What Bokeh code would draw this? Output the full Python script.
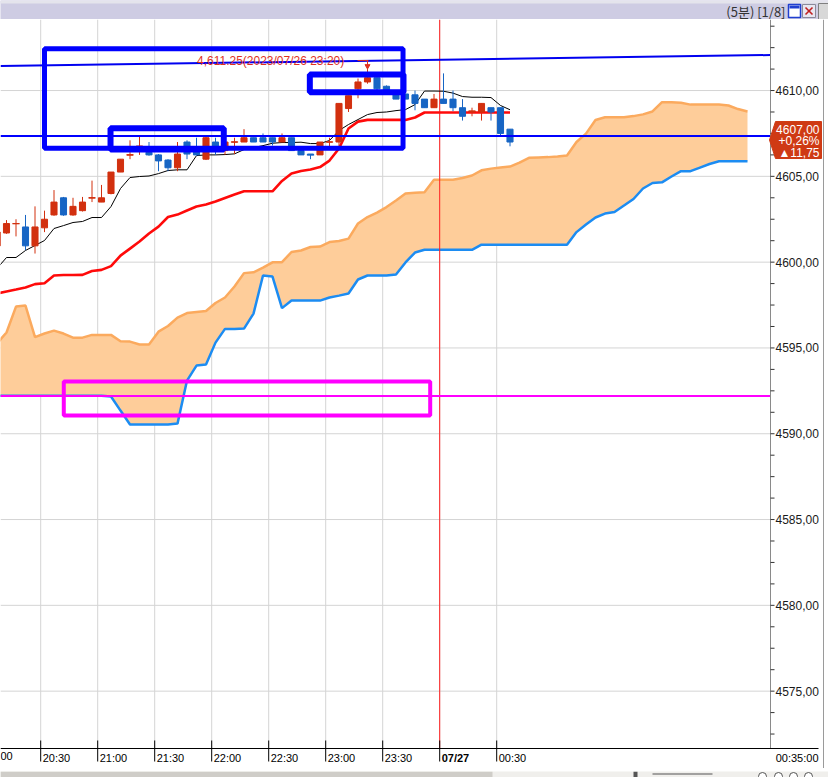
from bokeh.plotting import figure
from bokeh.models import Range1d
from bokeh.layouts import column
from bokeh.embed import file_html
from bokeh.resources import INLINE
from bokeh.core.properties import value

# ---------------- data (bar n = 20:00 + 5n minutes) ----------------
bar_index = list(range(1, 56))
opens = [4600.95, 4601.70, 4602.25, 4602.05, 4600.95, 4602.00, 4602.75, 4603.75, 4602.75, 4603.00,
         4603.75, 4603.50, 4604.00, 4605.25, 4606.25, 4606.75, 4606.40, 4606.25, 4605.95, 4605.50,
         4607.00, 4606.50, 4606.00, 4607.00, 4606.50, 4607.00, 4607.00, 4607.25, 4607.25, 4607.25,
         4607.00, 4607.25, 4606.50, 4606.30, 4606.25, 4607.00, 4607.00, 4608.95, 4610.10, 4610.50,
         4610.75, 4610.25, 4609.80, 4609.80, 4609.75, 4609.50, 4609.00, 4609.50, 4609.50, 4609.00,
         4608.75, 4608.75, 4609.00, 4609.00, 4607.75]
closes = [4601.75, 4602.25, 4602.25, 4600.95, 4602.05, 4602.50, 4603.50, 4602.75, 4603.25, 4603.50,
          4603.75, 4603.75, 4605.25, 4606.00, 4606.25, 4606.75, 4606.25, 4605.90, 4605.50, 4606.30,
          4606.30, 4606.25, 4607.25, 4606.50, 4607.00, 4607.00, 4607.25, 4607.00, 4607.00, 4607.00,
          4607.25, 4606.50, 4606.25, 4606.25, 4607.00, 4607.00, 4609.25, 4609.70, 4610.50, 4610.75,
          4610.10, 4609.85, 4609.50, 4609.50, 4609.25, 4609.00, 4609.50, 4609.25, 4609.00, 4608.50,
          4608.80, 4609.25, 4608.75, 4607.50, 4607.00]
highs = [4601.90, 4602.45, 4602.50, 4602.75, 4603.25, 4603.00, 4604.20, 4603.80, 4603.75, 4603.80,
         4604.75, 4604.50, 4605.25, 4606.00, 4607.10, 4607.30, 4607.00, 4606.30, 4606.00, 4607.00,
         4607.10, 4607.25, 4607.30, 4607.25, 4607.25, 4607.25, 4607.75, 4607.25, 4607.50, 4607.25,
         4607.50, 4607.25, 4606.50, 4606.30, 4607.00, 4607.25, 4609.25, 4609.70, 4610.70, 4611.25,
         4610.75, 4610.30, 4609.80, 4609.80, 4610.00, 4609.50, 4609.80, 4611.00, 4610.00, 4609.50,
         4609.00, 4609.25, 4609.00, 4609.00, 4607.75]
lows = [4600.90, 4601.65, 4601.50, 4600.70, 4600.50, 4601.75, 4602.70, 4602.70, 4602.70, 4602.95,
        4603.50, 4603.50, 4603.95, 4605.25, 4606.00, 4606.25, 4606.20, 4605.30, 4605.30, 4605.30,
        4606.00, 4606.20, 4605.95, 4606.25, 4606.25, 4606.30, 4607.00, 4607.00, 4607.00, 4606.80,
        4607.00, 4606.50, 4606.25, 4606.00, 4606.25, 4606.75, 4606.60, 4608.75, 4609.55, 4610.40,
        4610.00, 4609.80, 4609.50, 4609.50, 4608.85, 4609.00, 4609.00, 4609.25, 4608.80, 4608.25,
        4608.50, 4608.25, 4608.25, 4607.40, 4606.75]
tenkan = [4599.63, 4600.27, 4600.27, 4600.68, 4600.97, 4601.26, 4601.96, 4602.13, 4602.31, 4602.37,
          4602.60, 4602.60, 4603.24, 4604.29, 4604.93, 4604.99, 4605.02, 4605.16, 4605.34, 4605.38,
          4605.38, 4606.21, 4606.25, 4606.25, 4606.27, 4606.31, 4606.56, 4606.68, 4606.79, 4606.93,
          4606.97, 4606.97, 4606.99, 4606.91, 4606.91, 4607.09, 4607.67, 4608.02, 4608.31, 4608.60,
          4608.72, 4608.75, 4608.83, 4608.89, 4609.18, 4609.97, 4609.97, 4609.96, 4609.85, 4609.65,
          4609.61, 4609.61, 4609.59, 4609.13, 4608.88]
kijun = [4598.17, 4598.29, 4598.40, 4598.52, 4598.72, 4598.77, 4599.22, 4599.25, 4599.25, 4599.26,
         4599.48, 4599.55, 4599.77, 4600.38, 4600.79, 4601.20, 4601.67, 4602.07, 4602.63, 4602.77,
         4603.01, 4603.24, 4603.36, 4603.53, 4603.74, 4603.94, 4604.13, 4604.13, 4604.13, 4604.13,
         4604.73, 4605.16, 4605.31, 4605.40, 4605.54, 4605.92, 4606.62, 4607.79, 4608.19, 4608.29,
         4608.29, 4608.29, 4608.29, 4608.29, 4608.43, 4608.72, 4608.72, 4608.72, 4608.72, 4608.72,
         4608.72, 4608.72, 4608.72, 4608.72, 4608.72]
cloud_index = list(range(1, 81))
span_orange = [4595.26, 4595.90, 4597.41, 4597.47, 4595.63, 4595.84, 4596.01, 4595.84, 4595.60, 4595.60,
               4595.76, 4595.76, 4595.76, 4595.39, 4595.37, 4595.20, 4595.20, 4595.95, 4596.28, 4596.77,
               4597.03, 4597.09, 4597.15, 4597.62, 4597.94, 4598.58, 4599.36, 4599.41, 4599.68, 4599.99,
               4600.00, 4600.59, 4600.68, 4600.88, 4600.91, 4601.17, 4601.23, 4601.37, 4602.25, 4602.63,
               4602.89, 4603.21, 4603.59, 4604.00, 4604.04, 4604.07, 4604.80, 4604.80, 4604.80, 4604.90,
               4605.05, 4605.35, 4605.45, 4605.51, 4605.57, 4605.80, 4606.08, 4606.10, 4606.12, 4606.15,
               4606.21, 4607.00, 4607.49, 4608.28, 4608.44, 4608.44, 4608.44, 4608.51, 4608.61, 4608.78,
               4609.32, 4609.32, 4609.29, 4609.18, 4609.18, 4609.18, 4609.18, 4609.13, 4608.92, 4608.78]
span_blue = [4592.22, 4592.22, 4592.22, 4592.22, 4592.22, 4592.22, 4592.22, 4592.22, 4592.22, 4592.22,
             4592.22, 4592.22, 4592.17, 4591.35, 4590.54, 4590.54, 4590.54, 4590.54, 4590.54, 4590.59,
             4593.10, 4593.97, 4594.03, 4595.31, 4596.11, 4596.11, 4596.13, 4597.00, 4599.22, 4599.16,
             4597.32, 4597.76, 4597.76, 4597.76, 4597.76, 4597.94, 4598.05, 4598.17, 4598.99, 4599.22,
             4599.22, 4599.22, 4599.28, 4599.98, 4600.56, 4600.72, 4600.72, 4600.72, 4600.72, 4600.72,
             4600.72, 4601.02, 4601.02, 4601.02, 4601.02, 4601.02, 4601.02, 4601.02, 4601.02, 4601.02,
             4601.02, 4601.75, 4602.19, 4602.60, 4602.83, 4602.92, 4603.30, 4603.68, 4604.29, 4604.61,
             4604.65, 4604.99, 4605.30, 4605.30, 4605.51, 4605.72, 4605.88, 4605.88, 4605.88, 4605.88]
tick_bars = [6, 12, 18, 24, 30, 36, 42, 48, 54]
tick_labels = ["20:30", "21:00", "21:30", "22:00", "22:30", "23:00", "23:30", "07/27", "00:30"]
clipped_left_label = "00"          # tail of the 20:00 label, cut by the left edge
day_break_bar = 48
last_time_label = "00:35:00"
high_bar = 40
high_price = 4611.25
high_label = "4,611.25(2023/07/26 23:20)"
last_price = 4607.00
last_lines = ["4607,00", "+0,26%", "\u25b211,75"]
blue_level = 4607.35
magenta_level = 4592.20
trend_bars = [1.37, 82.42]
trend_prices = [4611.43, 4612.07]
box_left = [6.0, 12.95, 33.93]
box_right = [43.74, 24.87, 43.79]
box_top = [4612.43, 4607.80, 4610.93]
box_bottom = [4606.64, 4606.57, 4609.90]
box_line = [5, 6, 6]
mbox_left, mbox_right, mbox_top, mbox_bottom = [8.03], [46.6], [4593.05], [4591.06]
y_major = [4575, 4580, 4585, 4590, 4595, 4600, 4605, 4610]
title_text = "(5\ubd84) [1/8]"

# ---------------- scale / layout ----------------
PPB, PPP = 9.5, 17.16            # px per bar, px per point
W, CHART_W, CHART_H = 828, 770, 729
TOP_H, MAIN_H, BOT_H = 19, 749, 9
X0 = 13 / PPB                     # bar at the left edge
X1 = X0 + CHART_W / PPB           # bar at the right edge of the chart area
XR = X0 + W / PPB
Y_TOP = 4614.14
Y_BOT = Y_TOP - CHART_H / PPP
Y_MIN = Y_TOP - MAIN_H / PPP
dx = 1.0 / PPB
dy = 1.0 / PPP

RED, BLUE = "#d2300f", "#1765c4"
FONT = "Liberation Sans"

p = figure(width=W, height=MAIN_H, x_range=Range1d(X0, XR), y_range=Range1d(Y_MIN, Y_TOP),
           output_backend="svg", toolbar_location=None, x_axis_location=None, y_axis_location=None,
           min_border=0)
p.grid.visible = False
p.outline_line_color = None
p.background_fill_color = "white"
p.border_fill_color = "white"

GRID = "#d4d4d4"
tick_x = [b - 0.4 for b in tick_bars]
# grid
p.segment(x0=tick_x, y0=[Y_BOT] * len(tick_x), x1=tick_x, y1=[Y_TOP] * len(tick_x), line_color=GRID, line_width=1)
p.segment(x0=[X0] * len(y_major), y0=y_major, x1=[X1] * len(y_major), y1=y_major, line_color=GRID, line_width=1)

# Ichimoku cloud
p.varea(x=cloud_index, y1=span_blue, y2=span_orange, fill_color="#fecd9a")
p.line(cloud_index, span_orange, line_color="#fbaa5e", line_width=2.5)
p.line(cloud_index, span_blue, line_color="#1c8cf2", line_width=2.5)

# day separator
day_x = day_break_bar - 0.4
p.segment(x0=[day_x], y0=[Y_BOT], x1=[day_x], y1=[Y_TOP], line_color="#ff2020", line_width=1)

# tenkan / kijun
p.line(bar_index, kijun, line_color="#ff0a0a", line_width=2.6)
p.line(bar_index, tenkan, line_color="black", line_width=1)

# candles
colors = [RED if c >= o else BLUE for o, c in zip(opens, closes)]
p.segment(x0=bar_index, y0=lows, x1=bar_index, y1=highs, line_color=colors, line_width=1)
p.vbar(x=bar_index, width=0.64, top=[max(o, c) for o, c in zip(opens, closes)],
       bottom=[min(o, c) for o, c in zip(opens, closes)], fill_color=colors, line_color=colors, line_width=1)
doji = [k for k in range(len(opens)) if abs(opens[k] - closes[k]) < 0.1]
p.segment(x0=[bar_index[k] - 0.38 for k in doji], x1=[bar_index[k] + 0.38 for k in doji],
          y0=[closes[k] for k in doji], y1=[closes[k] for k in doji],
          line_color=[colors[k] for k in doji], line_width=1.2)

# drawn lines and boxes
p.line(trend_bars, trend_prices, line_color="#0000f0", line_width=2)
p.segment(x0=[X0, X0], y0=[blue_level, magenta_level], x1=[X1, X1], y1=[blue_level, magenta_level],
          line_color=["#0000ff", "#ff00ff"], line_width=2)
p.quad(left=box_left, right=box_right, top=box_top, bottom=box_bottom,
       fill_color=None, line_color="#0000ff", line_width=box_line)
p.quad(left=mbox_left, right=mbox_right, top=mbox_top, bottom=mbox_bottom,
       fill_color=None, line_color="#ff00ff", line_width=4)

# high marker
HC = "#e0301e"
mk_y = high_price + 8.5 * dy
p.segment(x0=[high_bar - 1.05], y0=[mk_y], x1=[high_bar + 0.1], y1=[mk_y], line_color=HC, line_width=1)
p.segment(x0=[high_bar], y0=[mk_y], x1=[high_bar], y1=[high_price + 3 * dy], line_color=HC, line_width=1)
p.scatter(x=[high_bar], y=[high_price + 3 * dy], marker="inverted_triangle", size=5, fill_color=HC, line_color=HC)
p.text(x=[high_bar - 2.45], y=[mk_y], text=[high_label], text_align="right", text_baseline="middle",
       text_font=value(FONT), text_font_size=value("12px"), text_color=HC)

# ---- right price axis (drawn) ----
y_minor = [4570 + 1.25 * k for k in range(40) if Y_BOT < 4570 + 1.25 * k < Y_TOP]
p.segment(x0=[X1], y0=[Y_BOT], x1=[X1], y1=[Y_TOP], line_color="#8a8a8a", line_width=1)
p.segment(x0=[X1] * len(y_minor), y0=y_minor, x1=[X1 + 4 * dx] * len(y_minor), y1=y_minor,
          line_color="#333333", line_width=1)
p.text(x=[X1 + 5 * dx] * len(y_major), y=y_major, text=[f"{v:.2f}".replace(".", ",") for v in y_major],
       text_align="left", text_baseline="middle", text_font=value(FONT), text_font_size=value("12px"),
       text_color="#1a1a1a")
# side panel edge
p.segment(x0=[X0 + 823 * dx], y0=[Y_MIN], x1=[X0 + 823 * dx], y1=[Y_TOP], line_color="#9a9a9a", line_width=1)

# ---- time axis (drawn) ----
p.segment(x0=[X0], y0=[Y_BOT], x1=[X1 + 48 * dx], y1=[Y_BOT], line_color="black", line_width=1)
p.segment(x0=tick_x, y0=[Y_BOT + 8 * dy] * len(tick_x), x1=tick_x, y1=[Y_BOT - 13 * dy] * len(tick_x),
          line_color="black", line_width=1)
ly = Y_BOT - 3 * dy
kb = tick_bars.index(day_break_bar)
normal = [k for k in range(len(tick_labels)) if k != kb]
p.text(x=[tick_x[k] + 2 * dx for k in normal], y=[ly] * len(normal), text=[tick_labels[k] for k in normal],
       text_align="left", text_baseline="top", text_font=value(FONT), text_font_size=value("11px"),
       text_color="black")
p.text(x=[tick_x[kb] + 2 * dx], y=[ly], text=[tick_labels[kb]], text_align="left", text_baseline="top",
       text_font=value(FONT), text_font_size=value("11px"), text_font_style="bold", text_color="black")
p.text(x=[X0], y=[ly], text=[clipped_left_label], text_align="left", text_baseline="top",
       text_font=value(FONT), text_font_size=value("11px"), text_color="black")
p.text(x=[X1 + 48 * dx], y=[ly], text=[last_time_label], text_align="right", text_baseline="top",
       text_font=value(FONT), text_font_size=value("11px"), text_color="black")

# ---- last price badge ----
BC = "#cf3a14"
b_top, b_bot, b_mid = last_price + 20.5 * dy, last_price - 16.5 * dy, last_price + 2 * dy
p.patch(x=[X1 - 1 * dx, X1 + 5 * dx, X1 + 51 * dx, X1 + 51 * dx, X1 + 5 * dx],
        y=[b_mid, b_top, b_top, b_bot, b_bot], fill_color=BC, line_color=BC)
p.text(x=[X1 + 49 * dx] * 3, y=[last_price + 13 * dy, last_price + 1 * dy, last_price - 10.5 * dy],
       text=last_lines, text_align="right", text_baseline="middle", text_font=value(FONT),
       text_font_size=value("12px"), text_color="white")

# ---------------- title bar ----------------
top = figure(width=W, height=TOP_H, x_range=Range1d(0, W), y_range=Range1d(0, TOP_H),
             output_backend="svg", toolbar_location=None, x_axis_location=None, y_axis_location=None,
             min_border=0)
top.grid.visible = False
top.outline_line_color = None
top.background_fill_color = "#cecce3"
top.border_fill_color = "#cecce3"
top.quad(left=[0], right=[W], top=[TOP_H], bottom=[TOP_H - 3], fill_color="#e4e4ec", line_color=None)
top.text(x=[785], y=[8.5], text=[title_text], text_align="right", text_baseline="middle",
         text_font=value("Noto Sans CJK KR"), text_font_size=value("13px"), text_color="#333333")
top.quad(left=[788], right=[800], top=[15], bottom=[2], fill_color="white", line_color="#1f3fd0", line_width=1.5)
top.quad(left=[789], right=[799], top=[14], bottom=[11], fill_color="#1f3fd0", line_color=None)
top.quad(left=[802], right=[815], top=[15], bottom=[2], fill_color="#e8e6f0", line_color="#8a8a9a", line_width=1)
top.segment(x0=[805, 805], y0=[5, 12], x1=[812, 812], y1=[12, 5], line_color="#c02020", line_width=1.6)
top.quad(left=[818], right=[828], top=[16], bottom=[0], fill_color="#d8d8d8", line_color="#808080", line_width=1)

# ---------------- bottom strip ----------------
bot = figure(width=W, height=BOT_H, x_range=Range1d(0, W), y_range=Range1d(0, BOT_H),
             output_backend="svg", toolbar_location=None, x_axis_location=None, y_axis_location=None,
             min_border=0)
bot.grid.visible = False
bot.outline_line_color = None
bot.background_fill_color = "#f0efec"
bot.border_fill_color = "#f0efec"
bot.quad(left=[0], right=[492], top=[BOT_H], bottom=[0], fill_color="#cfcdc8", line_color=None)
bot.quad(left=[633, 652], right=[637, 712], top=[9, 7], bottom=[0, 6], fill_color="#555555", line_color=None)
bot.scatter(x=[762, 778, 793, 808], y=[4, 4, 4, 4], size=8, fill_color="white", line_color="#555555")

layout = column(top, p, bot, spacing=0)
open("out.html", "w").write(file_html(layout, INLINE))
